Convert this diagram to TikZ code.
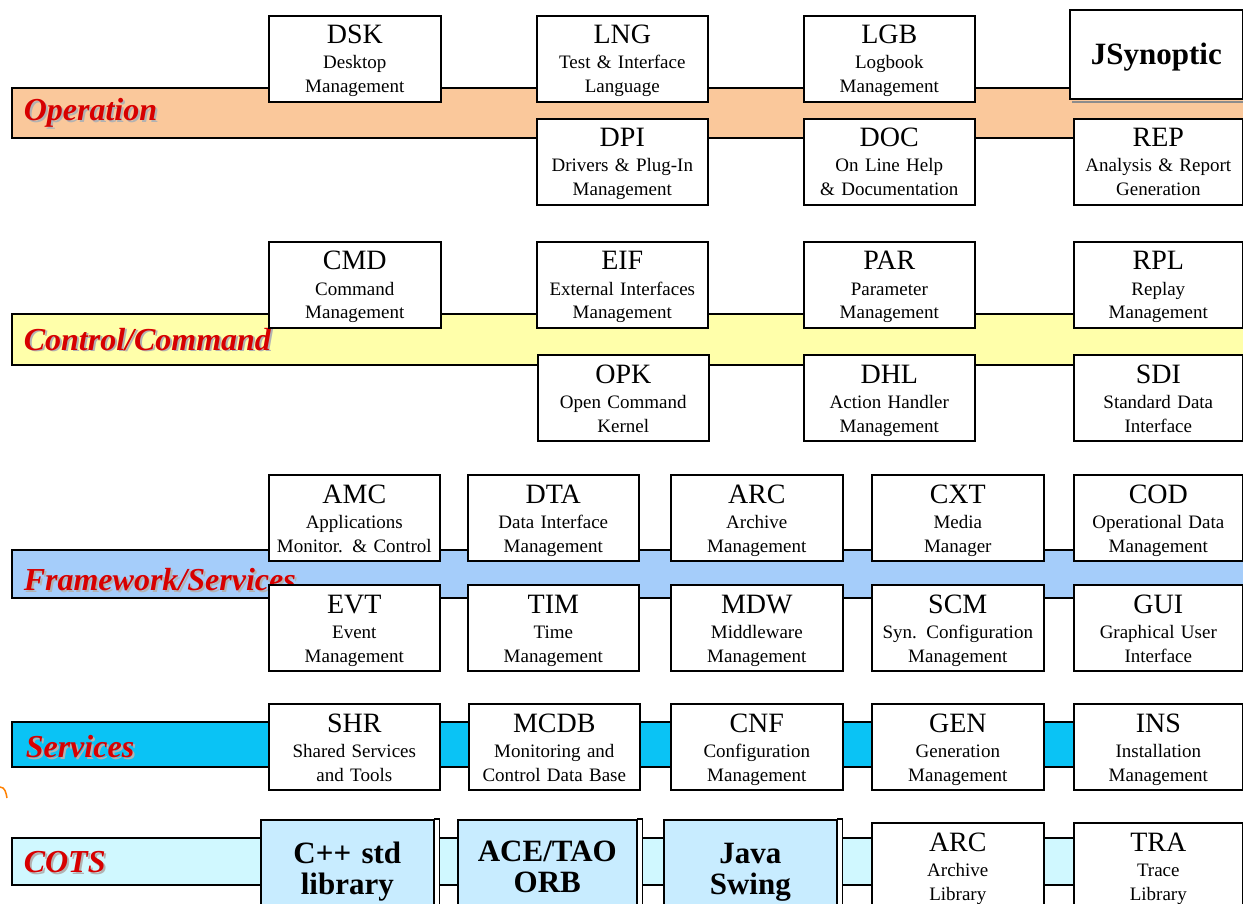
\documentclass[tikz,border=0pt]{standalone}
\usepackage{fontspec}
\setmainfont{Liberation Serif}
\usetikzlibrary{calc}
\definecolor{opband}{RGB}{250,200,155}
\definecolor{ccband}{RGB}{255,255,170}
\definecolor{fwband}{RGB}{165,205,250}
\definecolor{svband}{RGB}{10,195,245}
\definecolor{ctband}{RGB}{208,248,255}
\definecolor{cotsfill}{RGB}{200,236,255}
\definecolor{lblred}{RGB}{215,0,0}
\newcommand{\modbox}[6]{%
  \node[modbox, minimum width=#4pt] (#1) at (#2,#3) {};
  \node[modcode] (#1-c) at ($(#1.north)+(0,29)$) {#5};
  \node[modtext, text width=#4pt] (#1-t) at ($(#1.north)+(0,54)$) {#6};
}

\begin{document}
\begin{tikzpicture}[x=1pt, y=-1pt, line width=1.6pt,
  modbox/.style={draw=black, fill=white, minimum height=86pt, inner sep=0pt, anchor=north west},
  modcode/.style={anchor=base, inner sep=0pt, font=\fontsize{28}{30}\selectfont},
  modtext/.style={anchor=base, inner sep=0pt, align=center, font=\fontsize{19}{24}\selectfont},
  band/.style={draw=black, line width=1.4pt},
  bandlbl/.style={anchor=base west, inner sep=0pt, text=lblred, font=\fontsize{32}{34}\selectfont\bfseries\itshape},
  lblshadow/.style={bandlbl, text=black!30},
  cotsbox/.style={draw=black, fill=cotsfill, inner sep=0pt, minimum height=100pt, anchor=north west},
  cotstext/.style={anchor=base, align=center, inner sep=0pt, font=\fontsize{31}{31}\selectfont\bfseries}]

  \useasboundingbox (0,0) rectangle (1243,904);
  \clip (0,0) rectangle (1243,904);

  % ---------- layer bands ----------
  \filldraw[band, fill=opband] (12,88)  rectangle (1260,138);
  \filldraw[band, fill=ccband] (12,314) rectangle (1260,365);
  \filldraw[band, fill=fwband] (12,550) rectangle (1260,598);
  \filldraw[band, fill=svband] (12,722) rectangle (1260,767);
  \filldraw[band, fill=ctband] (12,838) rectangle (1260,885);

  % ---------- band labels (with shadow) ----------
  \node[lblshadow] (op-s) at (25,123) {Operation};
  \node[bandlbl]   (op-l) at (23,121) {Operation};
  \node[lblshadow] (cc-s) at (25,352) {Control/Command};
  \node[bandlbl]   (cc-l) at (23,350) {Control/Command};
  \node[lblshadow] (fw-s) at (25,592) {Framework/Services};
  \node[bandlbl]   (fw-l) at (23,590) {Framework/Services};
  \node[lblshadow] (sv-s) at (27,759) {Services};
  \node[bandlbl]   (sv-l) at (25,757) {Services};
  \node[lblshadow] (ct-s) at (25,874) {COTS};
  \node[bandlbl]   (ct-l) at (23,872) {COTS};

  % ---------- Operation ----------
  \modbox{dsk}{268}{15}{172}{DSK}{Desktop\\Management}
  \modbox{lng}{536}{15}{171}{LNG}{Test \& Interface\\Language}
  \modbox{lgb}{803}{15}{171}{LGB}{Logbook\\Management}
  \modbox{dpi}{536}{118}{171}{DPI}{Drivers \& Plug-In\\Management}
  \modbox{doc}{803}{118}{171}{DOC}{On Line Help\\\& Documentation}
  \modbox{rep}{1073}{118}{169}{REP}{Analysis \& Report\\Generation}

  % JSynoptic
  \node[modbox, minimum width=173pt, minimum height=89pt] (jsyn) at (1069,9) {};
  \draw[black!45, line width=2pt] ($(jsyn.south west)+(3,2.5)$) -- ($(jsyn.south east)+(3,2.5)$);
  \node[cotstext] (jsyn-t) at ($(jsyn.north)+(0,56)$) {JSynoptic};

  % ---------- Control/Command ----------
  \modbox{cmd}{268}{241}{172}{CMD}{Command\\Management}
  \modbox{eif}{536}{241}{171}{EIF}{External Interfaces\\Management}
  \modbox{par}{803}{241}{171}{PAR}{Parameter\\Management}
  \modbox{rpl}{1073}{241}{169}{RPL}{Replay\\Management}
  \modbox{opk}{537}{354}{171}{OPK}{Open Command\\Kernel}
  \modbox{dhl}{803}{354}{171}{DHL}{Action Handler\\Management}
  \modbox{sdi}{1073}{354}{169}{SDI}{Standard Data\\Interface}

  % ---------- Framework/Services ----------
  \modbox{amc}{268}{474}{171}{AMC}{Applications\\Monitor. \& Control}
  \modbox{dta}{467}{474}{171}{DTA}{Data Interface\\Management}
  \modbox{arcm}{670}{474}{172}{ARC}{Archive\\Management}
  \modbox{cxt}{871}{474}{172}{CXT}{Media\\Manager}
  \modbox{cod}{1073}{474}{169}{COD}{Operational Data\\Management}
  \modbox{evt}{268}{584}{171}{EVT}{Event\\Management}
  \modbox{tim}{467}{584}{171}{TIM}{Time\\Management}
  \modbox{mdw}{670}{584}{172}{MDW}{Middleware\\Management}
  \modbox{scm}{871}{584}{172}{SCM}{Syn. Configuration\\Management}
  \modbox{gui}{1073}{584}{169}{GUI}{Graphical User\\Interface}

  % ---------- Services ----------
  \modbox{shr}{268}{703}{171}{SHR}{Shared Services\\and Tools}
  \modbox{mcdb}{468}{703}{171}{MCDB}{Monitoring and\\Control Data Base}
  \modbox{cnf}{670}{703}{172}{CNF}{Configuration\\Management}
  \modbox{gen}{871}{703}{172}{GEN}{Generation\\Management}
  \modbox{ins}{1073}{703}{169}{INS}{Installation\\Management}

  % ---------- COTS ----------
  \node[cotsbox, minimum width=173pt] (cpp) at (260,819) {};
  \node[cotsbox, minimum width=179pt] (ace) at (457,819) {};
  \node[cotsbox, minimum width=173pt] (jsw) at (663,819) {};
  \foreach \n in {cpp,ace,jsw}{
    \filldraw[fill=white, line width=1.5pt] (\n.north east) rectangle ($(\n.south east)+(5,0)$);}
  \node[cotstext, text width=170pt] (cpp-t) at ($(cpp.north)+(0,44)$) {C++ std\\library};
  \node[cotstext, text width=176pt] (ace-t) at ($(ace.north)+(0,42)$) {ACE/TAO\\ORB};
  \node[cotstext, text width=170pt] (jsw-t) at ($(jsw.north)+(0,44)$) {Java\\Swing};
  \modbox{arcl}{871}{822}{172}{ARC}{Archive\\Library}
  \modbox{tra}{1073}{822}{169}{TRA}{Trace\\Library}

  % stray mark at the left edge
  \draw[orange, line width=1.5pt] (0,787) to[out=0, in=100] (7,798);

\end{tikzpicture}
\end{document}
